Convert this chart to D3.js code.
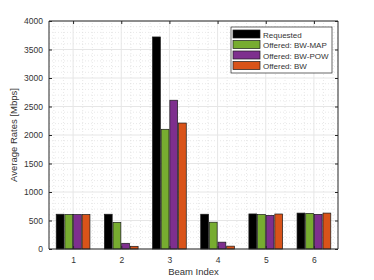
<!DOCTYPE html>
<html>
<head>
<meta charset="utf-8">
<script src="https://cdn.jsdelivr.net/npm/d3@7"></script>
<style>
  body { margin: 0; background: #fff; }
  text { font-family: "Liberation Sans", Arial, sans-serif; fill: #333; }
</style>
</head>
<body>
<div id="chart"></div>
<script>
const beams = [1, 2, 3, 4, 5, 6];
const seriesNames = ["Requested", "Offered: BW-MAP", "Offered: BW-POW", "Offered: BW"];
const requested = [610, 610, 3720, 610, 615, 630];
const bwMap = [605, 468, 2100, 470, 605, 625];
const bwPow = [605, 100, 2610, 120, 590, 608];
const bw = [605, 47, 2210, 50, 614, 630];
const yTicks = [0, 500, 1000, 1500, 2000, 2500, 3000, 3500, 4000];
const colors = ["#000000", "#77AC30", "#7E2F8E", "#D95319"];

const series = [requested, bwMap, bwPow, bw];

const width = 374, height = 280;
const margin = { top: 21, right: 36, bottom: 31, left: 49 };

const svg = d3.select('#chart')
    .append('svg')
    .attr('width', width)
    .attr('height', height);

const x = d3.scaleLinear()
    .domain([0.5, 6.5])
    .range([margin.left, width - margin.right]);

const y = d3.scaleLinear()
    .domain([0, 4000])
    .range([height - margin.bottom, margin.top]);

const grid = svg.append('g');

// minor grid
const minorX = d3.range(0.6, 6.5, 0.2).filter(v => Math.abs(v - Math.round(v)) > 0.01);
const minorY = d3.range(100, 4000, 100).filter(v => v % 500 !== 0);

grid.selectAll('.mx')
    .data(minorX)
    .enter()
    .append('line')
    .attr('x1', d => x(d)).attr('x2', d => x(d))
    .attr('y1', y(0)).attr('y2', y(4000))
    .style('stroke', '#d8d8d8')
    .style('stroke-width', 0.6)
    .style('stroke-dasharray', '1,2');

grid.selectAll('.my')
    .data(minorY)
    .enter()
    .append('line')
    .attr('x1', x(0.5)).attr('x2', x(6.5))
    .attr('y1', d => y(d)).attr('y2', d => y(d))
    .style('stroke', '#d8d8d8')
    .style('stroke-width', 0.6)
    .style('stroke-dasharray', '1,2');

// major grid
grid.selectAll('.gx')
    .data(beams)
    .enter()
    .append('line')
    .attr('x1', d => x(d)).attr('x2', d => x(d))
    .attr('y1', y(0)).attr('y2', y(4000))
    .style('stroke', '#e6e6e6')
    .style('stroke-width', 1);

grid.selectAll('.gy')
    .data(yTicks)
    .enter()
    .append('line')
    .attr('x1', x(0.5)).attr('x2', x(6.5))
    .attr('y1', d => y(d)).attr('y2', d => y(d))
    .style('stroke', '#e6e6e6')
    .style('stroke-width', 1);

// bars
const groupWidth = 0.7;
const band = d3.scaleBand()
    .domain(d3.range(series.length))
    .range([0, x(1 + groupWidth) - x(1)])
    .paddingInner(0.1);

const groups = svg.append('g')
    .selectAll('g')
    .data(series)
    .enter()
    .append('g')
    .style('fill', (d, i) => colors[i]);

groups.each(function (vals, si) {
    d3.select(this)
        .selectAll('rect')
        .data(vals)
        .enter()
        .append('rect')
        .attr('x', (v, i) => x(beams[i]) - (x(1 + groupWidth) - x(1)) / 2 + band(si))
        .attr('width', band.bandwidth())
        .attr('y', v => y(v))
        .attr('height', v => y(0) - y(v))
        .style('stroke', '#1a1a1a')
        .style('stroke-width', 0.7);
});

// axes
const axisColor = '#262626';
const xAxis = svg.append('g')
    .attr('transform', 'translate(0,' + y(0) + ')')
    .call(d3.axisBottom(x).tickValues(beams).tickFormat(d3.format('d')).tickSize(-3).tickPadding(8));
const yAxis = svg.append('g')
    .attr('transform', 'translate(' + x(0.5) + ',0)')
    .call(d3.axisLeft(y).tickValues(yTicks).tickFormat(d3.format('d')).tickSize(-3).tickPadding(6));
const xTop = svg.append('g')
    .attr('transform', 'translate(0,' + y(4000) + ')')
    .call(d3.axisTop(x).tickValues(beams).tickSize(-3).tickFormat(''));
const yRight = svg.append('g')
    .attr('transform', 'translate(' + x(6.5) + ',0)')
    .call(d3.axisRight(y).tickValues(yTicks).tickSize(-3).tickFormat(''));

[xAxis, yAxis, xTop, yRight].forEach(a => {
    a.selectAll('path').style('stroke', axisColor).style('stroke-width', 1);
    a.selectAll('line').style('stroke', axisColor);
    a.selectAll('text').style('font-size', '8.5px').style('fill', '#333')
        .style('font-family', '"Liberation Sans", Arial, sans-serif');
});
xAxis.select('.domain').attr('d', 'M' + x(0.5) + ',0H' + x(6.5));
yAxis.select('.domain').attr('d', 'M0,' + y(0) + 'V' + y(4000));
xTop.select('.domain').attr('d', 'M' + x(0.5) + ',0H' + x(6.5));
yRight.select('.domain').attr('d', 'M0,' + y(0) + 'V' + y(4000));

// axis labels
svg.append('text')
    .attr('x', (x(0.5) + x(6.5)) / 2)
    .attr('y', 275)
    .attr('text-anchor', 'middle')
    .style('font-size', '9.5px')
    .text('Beam Index');

svg.append('text')
    .attr('transform', 'translate(17,' + (y(0) + y(4000)) / 2 + ') rotate(-90)')
    .attr('text-anchor', 'middle')
    .style('font-size', '9.5px')
    .text('Average Rates [Mbps]');

// legend
const legend = svg.append('g').attr('transform', 'translate(231,27)');
legend.append('rect')
    .attr('width', 101)
    .attr('height', 46)
    .style('fill', '#fff')
    .style('stroke', '#262626')
    .style('stroke-width', 0.7);

const items = legend.selectAll('g')
    .data(seriesNames)
    .enter()
    .append('g')
    .attr('transform', (d, i) => 'translate(2,' + (3 + i * 10.5) + ')');

items.append('rect')
    .attr('width', 27)
    .attr('height', 8)
    .style('fill', (d, i) => colors[i])
    .style('stroke', '#1a1a1a')
    .style('stroke-width', 0.7);

items.append('text')
    .attr('x', 30)
    .attr('y', 7.5)
    .style('font-size', '8px')
    .text(d => d);
</script>
</body>
</html>
